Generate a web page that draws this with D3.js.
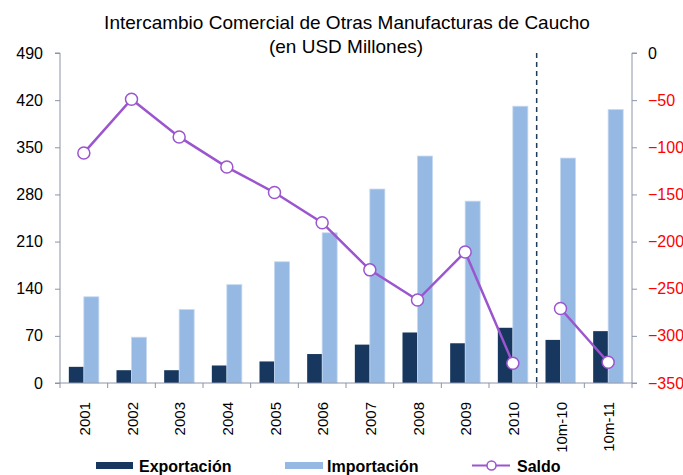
<!DOCTYPE html>
<html><head><meta charset="utf-8">
<script src="https://cdn.jsdelivr.net/npm/d3@7"></script>
<style>body{margin:0;background:#fff}svg{display:block;font-family:"Liberation Sans",Arial,sans-serif}</style>
</head><body>
<svg id="c" width="683" height="475"></svg>
<script>
const categories = ["2001","2002","2003","2004","2005","2006","2007","2008","2009","2010","10m-10","10m-11"];
const exportacion = [24,19,19,26,32,43,57,75,59,82,64,77];
const importacion = [128,68,109,146,180,223,288,337,270,411,334,406];
const saldo = [-106,-49,-89,-121,-148,-180,-230,-262,-211,-329,-271,-328];
const leftTicks = [0,70,140,210,280,350,420,490];
const rightTicks = [0,-50,-100,-150,-200,-250,-300,-350];

const svg = d3.select("#c");
const L = 60, R = 632, T = 53, B = 383;
const axisColor = "#8a94a8";
const purple = "#9b55cf";

const x = d3.scaleBand().domain(categories).range([L, R]);
const yL = d3.scaleLinear().domain([0, 490]).range([B, T]);
const yR = d3.scaleLinear().domain([-350, 0]).range([B, T]);
const bw = 15;

// title
svg.append("text").attr("x", 347).attr("y", 29).attr("text-anchor","middle")
  .attr("font-size", 19).attr("fill","#000").text("Intercambio Comercial de Otras Manufacturas de Caucho");
svg.append("text").attr("x", 346).attr("y", 52.5).attr("text-anchor","middle")
  .attr("font-size", 19).attr("fill","#000").text("(en USD Millones)");

// bars
const g = svg.append("g");
g.selectAll(".ex").data(categories).join("rect")
  .attr("x", d => x(d) + x.bandwidth()/2 - bw)
  .attr("y", (d,i) => yL(exportacion[i]))
  .attr("width", bw).attr("height", (d,i) => B - yL(exportacion[i]))
  .attr("fill", "#17375e");
g.selectAll(".im").data(categories).join("rect")
  .attr("x", d => x(d) + x.bandwidth()/2)
  .attr("y", (d,i) => yL(importacion[i]))
  .attr("width", bw).attr("height", (d,i) => B - yL(importacion[i]))
  .attr("fill", "#95b9e3").attr("stroke","#c5d9f0").attr("stroke-width",0.8);

// dashed separator
const sepX = x("10m-10");
svg.append("line").attr("x1", sepX).attr("x2", sepX).attr("y1", T).attr("y2", B)
  .attr("stroke", "#1f3b5a").attr("stroke-width", 1.5).attr("stroke-dasharray","5,4");

// axes
const axL = svg.append("g").attr("transform", `translate(${L},0)`)
  .call(d3.axisLeft(yL).tickValues(leftTicks).tickSize(5).tickPadding(12));
axL.select(".domain").attr("stroke", axisColor).attr("d", `M-5,${B}H0V${T}H-5`);
axL.selectAll(".tick line").attr("stroke", axisColor);
axL.selectAll("text").attr("font-size", 16).attr("fill", "#000").attr("font-family","Liberation Sans, Arial, sans-serif");

const axR = svg.append("g").attr("transform", `translate(${R},0)`)
  .call(d3.axisRight(yR).tickValues(rightTicks).tickSize(5).tickPadding(11));
axR.select(".domain").attr("stroke", axisColor).attr("d", `M5,${B}H0V${T}H5`);
axR.selectAll(".tick line").attr("stroke", axisColor);
axR.selectAll("text").attr("font-size", 16).attr("fill", d => d === 0 ? "#000" : "#ff0000").attr("font-family","Liberation Sans, Arial, sans-serif");

// bottom axis
svg.append("line").attr("x1", L).attr("x2", R).attr("y1", B).attr("y2", B).attr("stroke", axisColor);
const bounds = categories.map(c => x(c)).concat([R]);
svg.selectAll(".bt").data(bounds).join("line")
  .attr("x1", d => d).attr("x2", d => d).attr("y1", B).attr("y2", B + 5).attr("stroke", axisColor);
svg.selectAll(".xl").data(categories).join("text")
  .attr("transform", d => `translate(${x(d) + x.bandwidth()/2 + 6},402) rotate(-90)`)
  .attr("text-anchor", "end").attr("font-size", 15).attr("fill","#000").text(d => d);

// saldo line
const line = d3.line().x((d,i) => x(categories[i]) + x.bandwidth()/2).y(d => yR(d));
svg.append("path").attr("d", line(saldo.slice(0, 10))).attr("fill","none").attr("stroke",purple).attr("stroke-width",2.5);
const line2 = d3.line().x((d,i) => x(categories[i+10]) + x.bandwidth()/2).y(d => yR(d));
svg.append("path").attr("d", line2(saldo.slice(10))).attr("fill","none").attr("stroke",purple).attr("stroke-width",2.5);
svg.selectAll(".mk").data(saldo).join("circle")
  .attr("cx", (d,i) => x(categories[i]) + x.bandwidth()/2).attr("cy", d => yR(d))
  .attr("r", 6).attr("fill","#fff").attr("stroke",purple).attr("stroke-width",1.5);

// legend
const ly = 465.5;
svg.append("rect").attr("x", 96).attr("y", ly-3.5).attr("width", 37).attr("height", 7).attr("fill","#17375e");
svg.append("text").attr("x", 139).attr("y", ly+6).attr("font-size",16).attr("font-weight","bold").text("Exportación");
svg.append("rect").attr("x", 285).attr("y", ly-3.5).attr("width", 38).attr("height", 7).attr("fill","#95b9e3");
svg.append("text").attr("x", 327).attr("y", ly+6).attr("font-size",16).attr("font-weight","bold").text("Importación");
svg.append("line").attr("x1", 472).attr("x2", 510).attr("y1", ly).attr("y2", ly).attr("stroke",purple).attr("stroke-width",2);
svg.append("circle").attr("cx", 491.5).attr("cy", ly).attr("r", 4.5).attr("fill","#fff").attr("stroke",purple).attr("stroke-width",1.5);
svg.append("text").attr("x", 517).attr("y", ly+6).attr("font-size",16).attr("font-weight","bold").text("Saldo");
</script>
</body></html>
